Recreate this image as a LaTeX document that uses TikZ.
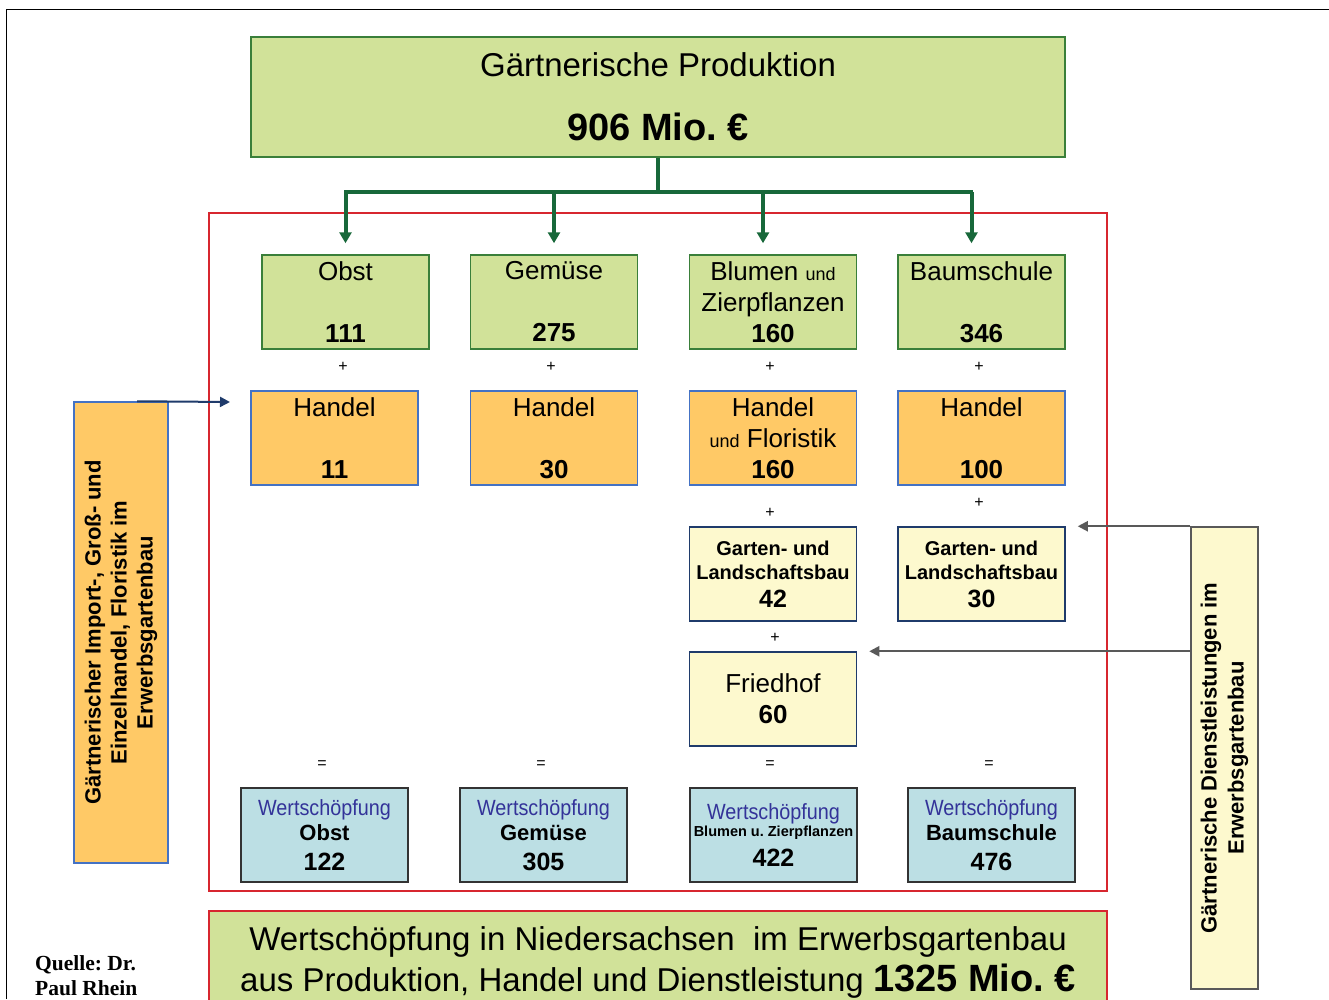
\documentclass[tikz,border=0pt]{standalone}
\usepackage{fontspec}
\setmainfont{Liberation Sans}
\newfontfamily\narrowfont[FakeStretch=0.9]{Liberation Sans}
\newfontfamily\quellefont{Liberation Serif}
\usetikzlibrary{arrows.meta,calc}

\definecolor{fillgreen}{HTML}{D1E299}
\definecolor{linegreen}{HTML}{3A7F3A}
\definecolor{arrowgreen}{HTML}{18683A}
\definecolor{fillorange}{HTML}{FFC966}
\definecolor{lineblue}{HTML}{4472C4}
\definecolor{fillyellow}{HTML}{FDF9CE}
\definecolor{linenavy}{HTML}{1F3B6B}
\definecolor{fillblue}{HTML}{BCDFE4}
\definecolor{wsblue}{HTML}{333399}
\definecolor{framered}{HTML}{D7262F}
\definecolor{arrowgray}{HTML}{595959}

\newcommand\setfs[2]{\fontsize{#1}{#2}\selectfont}

\begin{document}
\frenchspacing
\begin{tikzpicture}[x=1pt,y=-1pt,
  box/.style={line width=1.5pt,minimum width=167pt,minimum height=94pt,
    align=center,inner sep=0pt,font=\setfs{26}{31}},
  prodbox/.style={box,draw=linegreen,fill=fillgreen},
  handelbox/.style={box,draw=lineblue,fill=fillorange},
  dienstbox/.style={box,draw=linenavy,fill=fillyellow},
  wsbox/.style={box,draw=black!80,fill=fillblue},
  sign/.style={font=\setfs{16}{18},inner sep=0pt},
  greenline/.style={draw=arrowgreen,line width=4pt},
  greenarrow/.style={greenline,-{Triangle[width=12pt,length=11pt]}},
  grayarrow/.style={draw=arrowgray,line width=2pt,-{Triangle[width=10pt,length=10pt]}}]
\useasboundingbox (0,0) rectangle (1329,999);

% Page frame
\draw[line width=1pt] (6,999) -- (6,9) -- (1329,9);

% Production total
\node[prodbox,minimum width=814pt,minimum height=120pt,font=\setfs{33}{40}] (prod) at (658,97)
  {Gärtnerische Produktion\\[24pt]{\setfs{38}{40}\bfseries 906 Mio. €}};

% Red frame
\draw[draw=framered,line width=2pt] (209,213) rectangle (1107,891);

% Production per sector
\node[prodbox] (obst) at (345.5,302) {Obst\\[31pt]\textbf{111}};
\node[prodbox] (gemuese) at (554,302) {Gemüse\\[31pt]\textbf{275}};
\node[prodbox] (blumen) at (773,302) {Blumen {\setfs{18}{31}und}\\Zierpflanzen\\\textbf{160}};
\node[prodbox] (baum) at (981.5,302) {Baumschule\\[31pt]\textbf{346}};

% Green connectors
\coordinate (bus) at (658,192);
\draw[greenline] (prod.south) -- (bus);
\draw[greenline,line cap=rect] (bus -| obst) -- (bus -| 971,0);
\draw[greenarrow] (bus -| obst) -- ([yshift=11pt]obst.north);
\draw[greenarrow] (bus -| gemuese) -- ([yshift=11pt]gemuese.north);
\draw[greenarrow] ([xshift=-10pt]bus -| blumen) -- ([xshift=-10pt,yshift=11pt]blumen.north);
\draw[greenarrow] ([xshift=-10pt]bus -| baum) -- ([xshift=-10pt,yshift=11pt]baum.north);

% Trade
\node[handelbox] (handel1) at (334.5,438) {Handel\\[31pt]\textbf{11}};
\node[handelbox] (handel2) at (554,438) {Handel\\[31pt]\textbf{30}};
\node[handelbox] (handel3) at (773,438) {Handel\\{\setfs{18}{31}und} Floristik\\\textbf{160}};
\node[handelbox] (handel4) at (981.5,438) {Handel\\[31pt]\textbf{100}};

% Services
\node[dienstbox,font=\setfs{20}{24}\bfseries] (galabau1) at (773,574)
  {Garten- und\\Landschaftsbau\\[4pt]{\setfs{25}{28}42}};
\node[dienstbox,font=\setfs{20}{24}\bfseries] (galabau2) at (981.5,574)
  {Garten- und\\Landschaftsbau\\[4pt]{\setfs{25}{28}30}};
\node[dienstbox] (friedhof) at (773,699) {Friedhof\\\textbf{60}};

% Value added per sector
\node[wsbox,font=\setfs{22}{25}] (ws1) at (324.5,835)
  {{\narrowfont\color{wsblue}Wertschöpfung}\\{\bfseries Obst}\\[5pt]{\setfs{25}{27}\bfseries 122}};
\node[wsbox,font=\setfs{22}{25}] (ws2) at (543.5,835)
  {{\narrowfont\color{wsblue}Wertschöpfung}\\{\bfseries Gemüse}\\[5pt]{\setfs{25}{27}\bfseries 305}};
\node[wsbox,font=\setfs{22}{22}] (ws3) at (773.5,835)
  {{\narrowfont\color{wsblue}Wertschöpfung}\\[-5pt]{\setfs{14.5}{18}\bfseries Blumen u. Zierpflanzen}\\[8pt]{\setfs{25}{25}\bfseries 422}};
\node[wsbox,font=\setfs{22}{25}] (ws4) at (991.5,835)
  {{\narrowfont\color{wsblue}Wertschöpfung}\\{\bfseries Baumschule}\\[5pt]{\setfs{25}{27}\bfseries 476}};

% Plus and equal signs
\node[sign] (plus1) at (343,367) {+};
\node[sign] (plus2) at (551,367) {+};
\node[sign] (plus3) at (770,367) {+};
\node[sign] (plus4) at (979,367) {+};
\node[sign] (plus5) at (770,513) {+};
\node[sign] (plus6) at (979,503) {+};
\node[sign] (plus7) at (775,638) {+};
\node[sign] (eq1) at (322,765) {=};
\node[sign] (eq2) at (541,765) {=};
\node[sign] (eq3) at (770,765) {=};
\node[sign] (eq4) at (989,765) {=};

% Total value added
\node[prodbox,draw=framered,minimum width=898pt,minimum height=102pt,font=\setfs{33}{41}] (total) at (658,962)
  {Wertschöpfung in Niedersachsen\ \ im Erwerbsgartenbau\\aus Produktion, Handel und Dienstleistung {\setfs{38}{41}\bfseries 1325 Mio. €}};

% Side boxes
\node[handelbox,rotate=90,minimum width=461pt,minimum height=94pt,font=\setfs{22}{26}\bfseries] (import) at (121,632.5)
  {Gärtnerischer Import-, Groß- und\\Einzelhandel, Floristik im\\Erwerbsgartenbau};
\node[box,draw=arrowgray,fill=fillyellow,rotate=90,minimum width=462pt,minimum height=67pt,font=\setfs{22}{27}\bfseries] (dienst) at (1224.5,758)
  {Gärtnerische Dienstleistungen im\\Erwerbsgartenbau};

% Side arrows
\coordinate (importend) at (230,402);
\draw[draw=linenavy,line width=2pt,-{Triangle[width=10pt,length=10pt]}]
  ($(import.north east)!0.67!(import.south east)$) -- (importend);
\draw[grayarrow] (dienst.north east) -- ([xshift=12pt]galabau2.north east);
\draw[grayarrow] (dienst.north east |- friedhof.north) -- ([xshift=12pt]friedhof.north east);

% Source
\node[anchor=north west,align=left,inner sep=0pt,font=\quellefont\bfseries\setfs{21.5}{25}] (quelle) at (35,955)
  {Quelle: Dr.\\Paul Rhein};
\end{tikzpicture}
\end{document}
